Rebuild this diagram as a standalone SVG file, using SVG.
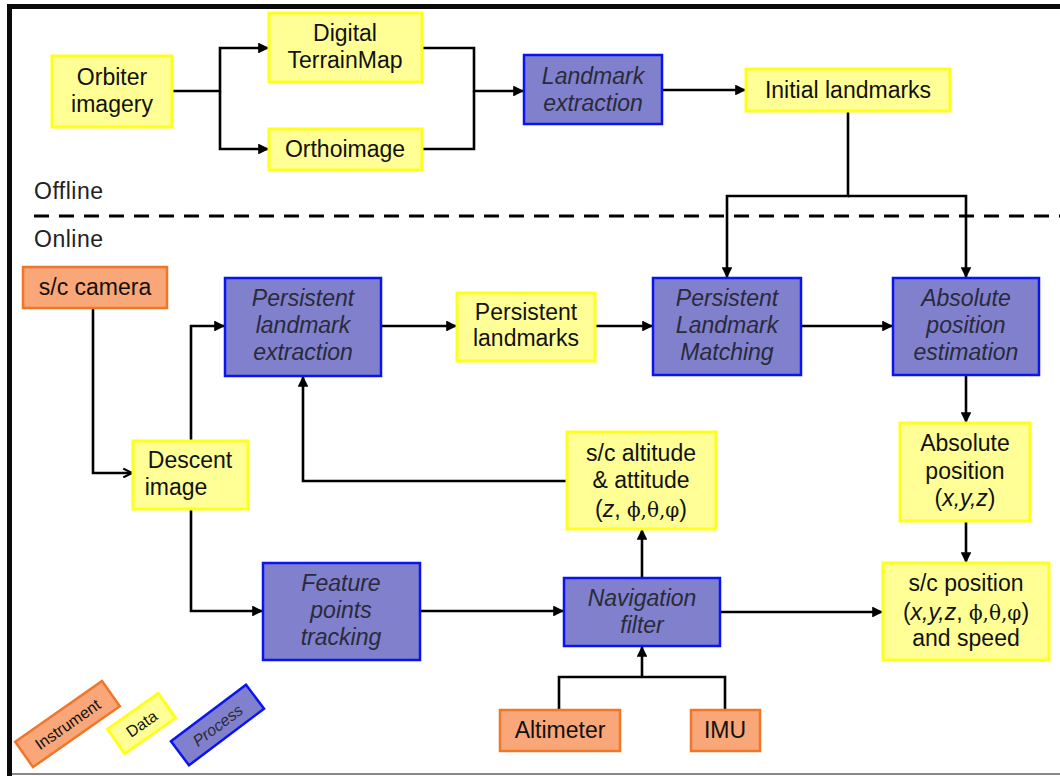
<svg xmlns="http://www.w3.org/2000/svg" width="1060" height="776" viewBox="0 0 1060 776">
<defs>
<marker id="arr" viewBox="0 0 10 10" refX="9" refY="5" markerWidth="4.2" markerHeight="4.2" orient="auto" markerUnits="strokeWidth">
<path d="M0,0 L10,5 L0,10 z" fill="#000"/>
</marker>
<marker id="open" viewBox="0 0 10 10" refX="9" refY="5" markerWidth="4.2" markerHeight="4.2" orient="auto" markerUnits="strokeWidth">
<path d="M1,1 L9,5 L1,9" fill="none" stroke="#000" stroke-width="2"/>
</marker>
<style>
.data{fill:#FFFF96;stroke:#FFFF1E;stroke-width:3}
.proc{fill:#8080CC;stroke:#0A14F0;stroke-width:2.5}
.inst{fill:#F9A678;stroke:#F07628;stroke-width:2.5}
text{font-family:"Liberation Sans",Arial,sans-serif;font-size:23px;fill:#111;text-anchor:middle}
.it{font-style:italic;fill:#2a2a3a}
.g{font-family:"DejaVu Serif","Liberation Serif",serif;font-style:normal;font-size:20px}
.lab{text-anchor:start;font-size:23px;fill:#222;letter-spacing:0.5px}
.leg{font-size:16px}
.c{fill:none;stroke:#000;stroke-width:2.6}
.ca{fill:none;stroke:#000;stroke-width:2.6;marker-end:url(#arr)}
</style>
</defs>
<rect x="0" y="0" width="1060" height="776" fill="#fff"/>
<rect x="7" y="4" width="1053" height="5" fill="#0a0a0a"/>
<rect x="7" y="4" width="5" height="772" fill="#0a0a0a"/>
<line x1="12" y1="774" x2="1060" y2="774" stroke="#888" stroke-width="2"/>

<text class="lab" x="34" y="199">Offline</text>
<text class="lab" x="34" y="247">Online</text>
<line x1="34" y1="216" x2="1060" y2="216" stroke="#000" stroke-width="3" stroke-dasharray="15,10"/>

<g id="connectors">
<path class="ca" d="M172,91 H220 V48 H268"/>
<path class="ca" d="M220,91 V149 H268"/>
<path class="ca" d="M422,48 H474 V91 H523"/>
<path class="c" d="M422,149 H474 V91"/>
<path class="ca" d="M662,90 H745"/>
<path class="ca" d="M848,111 V196 H727 V277"/>
<path class="ca" d="M848,196 H966 V277"/>
<path d="M93,308 V473 H132" fill="none" stroke="#000" stroke-width="2.6" marker-end="url(#open)"/>
<path class="ca" d="M191,441 V326 H224"/>
<path class="ca" d="M381,326 H456"/>
<path class="ca" d="M595,326 H652"/>
<path class="ca" d="M801,326 H892"/>
<path class="ca" d="M966,375 V422"/>
<path class="ca" d="M966,521 V562"/>
<path class="ca" d="M191,509 V611 H262"/>
<path class="ca" d="M420,611 H563"/>
<path class="ca" d="M720,612 H882"/>
<path class="ca" d="M642,578 V530"/>
<path class="ca" d="M567,481 H303 V377"/>
<path class="c" d="M559,710 V677 H725 V710"/>
<path class="ca" d="M642,677 V647"/>
</g>

<g id="orbiter"><rect class="data" x="52" y="56" width="120" height="71"/><text x="112" y="85">Orbiter</text><text x="112" y="112">imagery</text></g>
<g id="dtm"><rect class="data" x="269" y="13" width="153" height="69"/><text x="345" y="41">Digital</text><text x="345" y="68">TerrainMap</text></g>
<g id="ortho"><rect class="data" x="269" y="129" width="153" height="41"/><text x="345" y="157">Orthoimage</text></g>
<g id="lmext"><rect class="proc" x="524" y="55" width="138" height="69"/><text class="it" x="593" y="84">Landmark</text><text class="it" x="593" y="111">extraction</text></g>
<g id="initlm"><rect class="data" x="746" y="69" width="204" height="42"/><text x="848" y="98">Initial landmarks</text></g>

<g id="camera"><rect class="inst" x="23" y="267" width="144" height="41"/><text x="95" y="295">s/c camera</text></g>
<g id="ple"><rect class="proc" x="225" y="278" width="156" height="98"/><text class="it" x="303" y="306">Persistent</text><text class="it" x="303" y="333">landmark</text><text class="it" x="303" y="360">extraction</text></g>
<g id="plm_data"><rect class="data" x="457" y="293" width="138" height="68"/><text x="526" y="320">Persistent</text><text x="526" y="346">landmarks</text></g>
<g id="plm"><rect class="proc" x="653" y="278" width="148" height="97"/><text class="it" x="727" y="306">Persistent</text><text class="it" x="727" y="333">Landmark</text><text class="it" x="727" y="360">Matching</text></g>
<g id="ape"><rect class="proc" x="893" y="278" width="146" height="97"/><text class="it" x="966" y="306">Absolute</text><text class="it" x="966" y="333">position</text><text class="it" x="966" y="360">estimation</text></g>
<g id="descent"><rect class="data" x="133" y="441" width="115" height="68"/><text x="190" y="468">Descent</text><text x="176" y="495">image</text></g>
<g id="alt"><rect class="data" x="567" y="432" width="149" height="97"/><text x="641" y="461">s/c altitude</text><text x="641" y="488">&amp; attitude</text><text x="641" y="517">(<tspan font-style="italic">z</tspan>,  <tspan class="g">ϕ,θ,φ</tspan>)</text></g>
<g id="abspos"><rect class="data" x="900" y="423" width="130" height="98"/><text x="965" y="451">Absolute</text><text x="965" y="479">position</text><text x="965" y="506">(<tspan font-style="italic">x,y,z</tspan>)</text></g>
<g id="fpt"><rect class="proc" x="263" y="563" width="157" height="97"/><text class="it" x="341" y="591">Feature</text><text class="it" x="341" y="618">points</text><text class="it" x="341" y="645">tracking</text></g>
<g id="nav"><rect class="proc" x="564" y="578" width="156" height="68"/><text class="it" x="642" y="606">Navigation</text><text class="it" x="642" y="633">filter</text></g>
<g id="scpos"><rect class="data" x="883" y="563" width="166" height="97"/><text x="966" y="591">s/c position</text><text x="966" y="620">(<tspan font-style="italic">x,y,z</tspan>, <tspan class="g">ϕ,θ,φ</tspan>)</text><text x="966" y="646">and speed</text></g>
<g id="altimeter"><rect class="inst" x="500" y="710" width="120" height="41"/><text x="560" y="738">Altimeter</text></g>
<g id="imu"><rect class="inst" x="691" y="710" width="69" height="41"/><text x="725" y="738">IMU</text></g>

<g id="legend">
<g transform="translate(67.5,724) rotate(-35)"><rect class="inst" x="-53" y="-15.5" width="106" height="31"/><text class="leg" x="0" y="6">Instrument</text></g>
<g transform="translate(141.5,723.5) rotate(-35)"><rect class="data" x="-31" y="-15" width="62" height="30"/><text class="leg" x="0" y="6">Data</text></g>
<g transform="translate(217.5,725) rotate(-37)"><rect class="proc" x="-47" y="-15" width="94" height="30"/><text class="leg it" x="0" y="6">Process</text></g>
</g>
</svg>
